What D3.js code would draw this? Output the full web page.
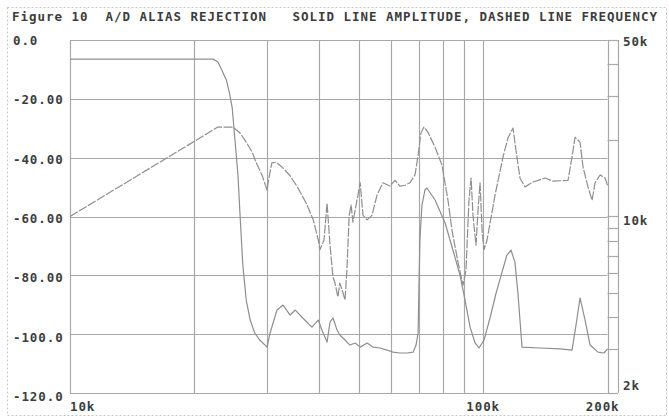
<!DOCTYPE html>
<html>
<head>
<meta charset="utf-8">
<script src="https://cdn.jsdelivr.net/npm/d3@7"></script>
<style>
  html, body { margin: 0; padding: 0; background: #fff; }
  svg { display: block; }
  text { font-family: "DejaVu Sans Mono", "Liberation Mono", monospace; font-weight: bold; fill: #3c3c3c; white-space: pre; }
</style>
</head>
<body>
<svg id="chart" width="669" height="418"></svg>
<script>
// ---- data ----
const titleText = "Figure 10  A/D ALIAS REJECTION   SOLID LINE AMPLITUDE, DASHED LINE FREQUENCY";

const leftTicks = [0, -20, -40, -60, -80, -100, -120];
const leftTickLabels = ["0.0", "-20.00", "-40.00", "-60.00", "-80.00", "-100.0", "-120.0"];

const xGridK = [20, 30, 40, 50, 60, 70, 80, 90, 100];
const xTickK = [10, 100, 200];
const xTickLabels = ["10k", "100k", "200k"];

const rightMinorTicksK = [3, 4, 5, 6, 7, 8, 9, 10, 20, 30, 40];
const rightLabelK = [50, 10, 2];
const rightLabels = ["50k", "10k", "2k"];

// amplitude (solid): input frequency (kHz) -> level (dB)
const ampFreqK = [10, 22.2, 22.8, 23.3, 23.9, 24.3, 24.7, 24.9, 25.2, 25.5,
  25.8, 26.2, 26.7, 27.3, 28.0, 28.8, 30.0, 30.5, 31.7, 32.8,
  34.1, 35.1, 36.6, 38.5, 39.9, 40.7, 41.9, 42.6, 43.3, 44.3,
  45.0, 46.3, 47.6, 49.0, 50.4, 52.4, 54.1, 56.3, 58.5, 60.5,
  62.9, 65.4, 67.7, 68.8, 69.6, 69.9, 70.3, 71.1, 72.3, 73.1,
  76.5, 80.9, 84.5, 87.9, 90.4, 93.0, 95.6, 97.7, 100.5, 103.9,
  107.5, 111.1, 114.2, 116.8, 119.4, 121.5, 124.2, 137.3, 153.6, 164.1,
  167.8, 171.6, 176.5, 181.5, 189.7, 196.2, 200];
const ampDb = [-6.5, -6.5, -7.5, -10.2, -13.6, -17.7, -23.1, -28.9, -37.4, -45.9,
  -59.5, -76.5, -88.4, -95.2, -99.6, -102.0, -104.4, -99.6, -91.8, -90.1,
  -93.5, -91.8, -94.5, -97.6, -95.2, -98.6, -102.7, -95.9, -94.5, -98.6,
  -100.3, -102.0, -103.7, -103.0, -104.4, -103.0, -104.4, -104.7, -105.4, -106.1,
  -106.4, -106.4, -106.1, -103.7, -99.6, -85.0, -68.0, -56.1, -51.0, -50.3,
  -54.4, -62.2, -71.4, -79.9, -88.4, -97.6, -103.0, -104.7, -102.0, -94.5,
  -86.0, -78.9, -73.1, -71.4, -75.5, -86.7, -104.4, -104.7, -105.0, -105.4,
  -96.9, -87.7, -95.2, -103.7, -106.1, -106.4, -105.0];

// frequency (dashed): input frequency (kHz) -> measured output frequency (kHz)
const freqInK = [10, 22.8, 24.8, 25.8, 26.7, 27.6, 28.2, 29.2, 30.0, 30.3,
  30.8, 31.5, 32.6, 34.1, 35.6, 37.3, 38.8, 39.9, 40.3, 41.2,
  41.9, 42.6, 43.3, 43.8, 44.5, 45.0, 45.8, 46.3, 46.8, 47.4,
  47.9, 48.4, 49.5, 50.4, 51.2, 52.4, 53.8, 55.4, 57.2, 59.5,
  61.2, 62.9, 64.7, 66.5, 68.4, 69.6, 70.7, 71.9, 73.5, 76.5,
  79.5, 82.2, 84.1, 86.9, 89.4, 90.9, 92.4, 93.5, 94.5, 96.1,
  97.2, 98.3, 99.4, 100.5, 102.2, 106.9, 111.7, 114.9, 118.1, 120.1,
  122.8, 126.3, 132.1, 141.2, 147.6, 160.5, 164.1, 166.9, 171.6, 174.5,
  179.4, 183.5, 186.6, 191.9, 197.3, 200];
const freqOutK = [10, 22.6, 22.6, 21.4, 19.7, 18.0, 16.4, 14.5, 12.7, 14.2,
  16.3, 16.4, 15.7, 14.5, 13.0, 11.3, 9.7, 8.07, 7.4, 8.07,
  11.3, 7.7, 5.76, 5.45, 4.8, 5.45, 4.98, 4.67, 6.14, 10.1,
  11.1, 9.5, 11.6, 13.6, 10.1, 9.7, 10.1, 12.2, 13.6, 13.2,
  13.9, 13.2, 13.3, 13.6, 14.6, 17.5, 21.4, 22.6, 21.6, 18.8,
  16.0, 11.6, 8.8, 6.6, 5.35, 6.14, 11.6, 14.2, 10.1, 7.7,
  10.6, 13.6, 8.8, 7.4, 8.07, 12.2, 17.2, 20.5, 22.4, 18.3,
  14.2, 13.1, 13.7, 14.2, 13.8, 13.9, 17.2, 20.6, 19.7, 15.7,
  13.1, 11.6, 13.6, 14.6, 14.2, 13.3];

// ---- layout ----
const L = 70, T = 40, Rp = 607.5, B = 393, boxR = 618;
const svg = d3.select("#chart");
const x = d3.scaleLog().domain([10, 200]).range([L, Rp]);
const yL = d3.scaleLinear().domain([0, -120]).range([T, B]);
const yR = d3.scaleLog().domain([2, 50]).range([B, T]);

const gridCol = "#a8a8a8", lineCol = "#8e8e8e";

// outer dotted frame
svg.append("rect").attr("x", 7.5).attr("y", 7.5).attr("width", 659).attr("height", 408)
  .attr("fill", "none").attr("stroke", "#c4c4c4").attr("stroke-dasharray", "2,2");

// title
svg.append("text").attr("x", 12).attr("y", 21).attr("font-size", 12.5)
  .attr("xml:space", "preserve")
  .attr("textLength", 645).attr("lengthAdjust", "spacing").text(titleText);

const g = svg.append("g").attr("fill", "none");

// horizontal grid
g.selectAll(".hg").data(leftTicks).join("line")
  .attr("x1", L).attr("x2", Rp)
  .attr("y1", d => Math.round(yL(d)) + 0.5).attr("y2", d => Math.round(yL(d)) + 0.5)
  .attr("stroke", gridCol).attr("stroke-width", 1.2);

// vertical grid
g.selectAll(".vg").data(xGridK.concat([10, 200])).join("line")
  .attr("x1", d => Math.round(x(d)) + 0.5).attr("x2", d => Math.round(x(d)) + 0.5)
  .attr("y1", T).attr("y2", B)
  .attr("stroke", gridCol).attr("stroke-width", 1.2);

// right axis box
g.append("line").attr("x1", Rp).attr("x2", boxR).attr("y1", T + 0.5).attr("y2", T + 0.5).attr("stroke", gridCol).attr("stroke-width", 1.2);
g.append("line").attr("x1", Rp).attr("x2", boxR).attr("y1", B + 0.5).attr("y2", B + 0.5).attr("stroke", gridCol).attr("stroke-width", 1.2);
g.append("line").attr("x1", boxR + 0.5).attr("x2", boxR + 0.5).attr("y1", T).attr("y2", B).attr("stroke", gridCol).attr("stroke-width", 1.2);
g.selectAll(".rt").data(rightMinorTicksK).join("line")
  .attr("x1", Rp).attr("x2", boxR)
  .attr("y1", d => Math.round(yR(d)) + 0.5).attr("y2", d => Math.round(yR(d)) + 0.5)
  .attr("stroke", gridCol).attr("stroke-width", 1.2);

// curves
const ampLine = d3.line().x(d => x(d[0])).y(d => yL(d[1]));
const frqLine = d3.line().x(d => x(d[0])).y(d => yR(d[1]));

g.append("path").datum(freqInK.map((f, i) => [f, freqOutK[i]]))
  .attr("d", frqLine).attr("stroke", lineCol).attr("stroke-width", 1.2)
  .attr("stroke-dasharray", "9,1.5").attr("stroke-linejoin", "round");

g.append("path").datum(ampFreqK.map((f, i) => [f, ampDb[i]]))
  .attr("d", ampLine).attr("stroke", lineCol).attr("stroke-width", 1.2)
  .attr("stroke-linejoin", "round");

// left labels
const fs = 12.5, ls = 0.9;
svg.selectAll(".ll").data(leftTicks).join("text")
  .attr("x", 13).attr("y", d => yL(d) + 5 + (yL(d) - T) * 0.0085)
  .attr("font-size", fs).attr("letter-spacing", ls)
  .text((d, i) => leftTickLabels[i]);

// bottom labels
const anchors = ["start", "middle", "end"];
const xOff = [0, 0, 12];
svg.selectAll(".bl").data(xTickK).join("text")
  .attr("x", (d, i) => x(d) + xOff[i]).attr("y", 411)
  .attr("text-anchor", (d, i) => anchors[i])
  .attr("font-size", fs).attr("letter-spacing", ls)
  .text((d, i) => xTickLabels[i]);

// right labels
const rOff = [6, 8.5, -3];
svg.selectAll(".rl").data(rightLabelK).join("text")
  .attr("x", 623).attr("y", (d, i) => yR(d) + rOff[i])
  .attr("font-size", fs).attr("letter-spacing", ls)
  .text((d, i) => rightLabels[i]);
</script>
</body>
</html>
